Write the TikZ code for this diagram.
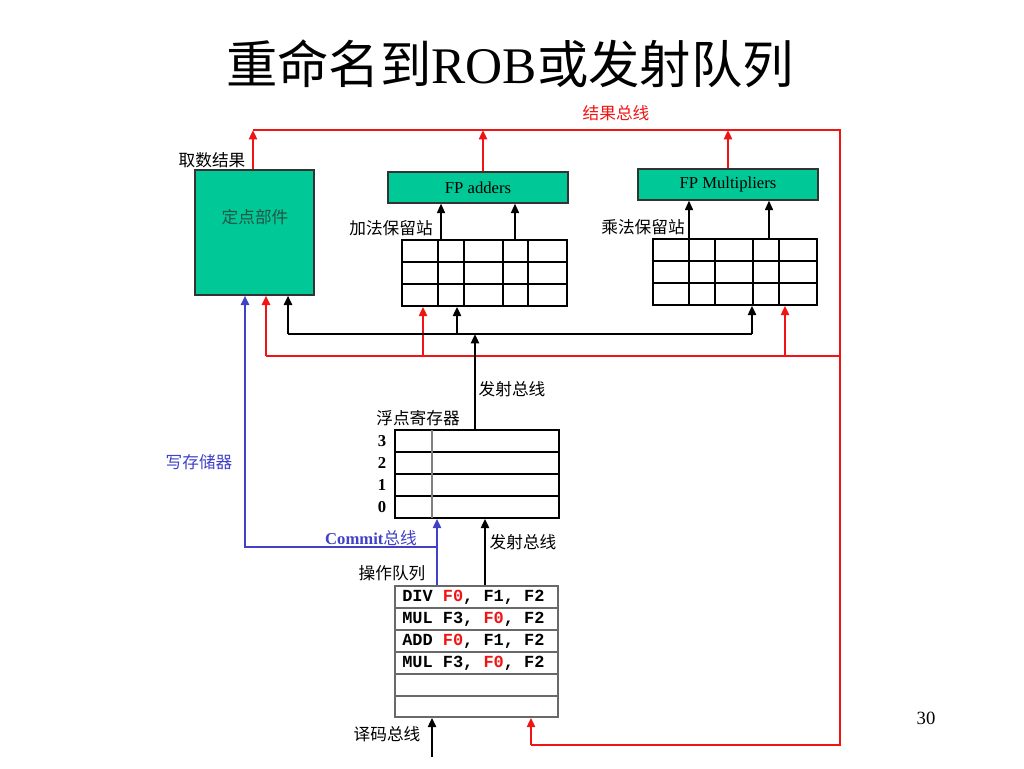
\documentclass[tikz,border=0pt]{standalone}
\usepackage{fontspec}
\setmainfont{Liberation Serif}
\newfontfamily\cjk{Noto Sans CJK SC}
\newfontfamily\qmono{Liberation Mono}
\usetikzlibrary{arrows.meta,fit}
\definecolor{unitgreen}{RGB}{0,200,150}
\definecolor{busred}{RGB}{240,20,20}
\definecolor{busblue}{RGB}{64,64,200}
\definecolor{unittext}{RGB}{35,85,72}
\definecolor{qgray}{RGB}{105,105,105}
\begin{document}
\begin{tikzpicture}[x=0.75pt,y=-0.75pt,
  unit/.style={draw=black!80, line width=1pt, fill=unitgreen, inner sep=0pt},
  tab/.style={draw=black, line width=1.1pt, inner sep=0pt},
  tabline/.style={draw=black, line width=1.1pt},
  qtab/.style={draw=qgray, line width=1.1pt, inner sep=0pt},
  qline/.style={draw=qgray, line width=1.1pt},
  lab/.style={font=\cjk\fontsize{12.5}{14}\selectfont, inner sep=0pt},
  tlab/.style={font=\rmfamily\fontsize{12.5}{14}\selectfont, inner sep=0pt},
  qtxt/.style={font=\qmono\bfseries\fontsize{12.7}{14}\selectfont, inner sep=0pt, anchor=west},
  arr/.style={-{Triangle[length=7pt,width=6pt]}},
  redbus/.style={draw=busred, line width=2pt},
  bluebus/.style={draw=busblue, line width=2pt},
  blkbus/.style={draw=black, line width=2pt}]
\useasboundingbox (0,0) rectangle (1024,768);

% title
\node[lab] (title) at (510,64) {\fontsize{38.5}{42}\selectfont 重命名到{\rmfamily ROB}或发射队列};

% functional units
\node[unit, fit={(195,170) (314,295)}] (fx) {};
\node[lab, text=unittext] (fxt) at (255,217) {定点部件};
\node[unit, fit={(388,172) (568,203)}] (fpa) {};
\node[tlab] (fpat) at (fpa.center) {FP adders};
\node[unit, fit={(638,169) (818,200)}] (fpm) {};
\node[tlab] (fpmt) at (fpm.center) {FP Multipliers};

% reservation stations
\node[tab, fit={(402,240) (567,306)}] (ars) {};
\foreach \x in {438,464,503,528} \draw[tabline] (\x,240) -- (\x,306);
\foreach \y in {262,284} \draw[tabline] (402,\y) -- (567,\y);
\node[tab, fit={(653,239) (817,305)}] (mrs) {};
\foreach \x in {689,715,753,779} \draw[tabline] (\x,239) -- (\x,305);
\foreach \y in {261,283} \draw[tabline] (653,\y) -- (817,\y);

% register file
\node[tab, fit={(395,430) (559,518)}] (rf) {};
\foreach \y in {452,474,496} \draw[tabline] (395,\y) -- (559,\y);
\draw[draw=gray, line width=1.1pt] (432,430) -- (432,518);
\foreach \n/\y in {3/441,2/463,1/485,0/507}
  \node[tlab, font=\rmfamily\bfseries\fontsize{12.5}{14}\selectfont] (r\n) at (382,\y) {\n};

% instruction queue
\node[qtab, fit={(395,586) (558,717)}] (q) {};
\foreach \y in {608,630,652,674,696} \draw[qline] (395,\y) -- (558,\y);
\node[qtxt] (q1) at (402,597) {DIV \textcolor{busred}{F0}, F1, F2};
\node[qtxt] (q2) at (402,619) {MUL F3, \textcolor{busred}{F0}, F2};
\node[qtxt] (q3) at (402,641) {ADD \textcolor{busred}{F0}, F1, F2};
\node[qtxt] (q4) at (402,663) {MUL F3, \textcolor{busred}{F0}, F2};

% labels
\node[lab, text=busred] (lres) at (616,113) {结果总线};
\node[lab] (lget) at (212,160) {取数结果};
\node[lab] (lars) at (391,228) {加法保留站};
\node[lab] (lmrs) at (643,227) {乘法保留站};
\node[lab] (liss1) at (512,389) {发射总线};
\node[lab] (lrf) at (418,418) {浮点寄存器};
\node[lab, text=busblue] (lmem) at (199,462) {写存储器};
\node[lab, text=busblue] (lcom) at (371,538) {{\rmfamily\bfseries Commit}总线};
\node[lab] (liss2) at (523,542) {发射总线};
\node[lab] (lq) at (392,573) {操作队列};
\node[lab] (ldec) at (387,734) {译码总线};
\node[tlab, font=\rmfamily\fontsize{14}{16}\selectfont] (pg) at (926,718) {30};

% coordinates of buses
\coordinate (tbL) at (253,130);
\coordinate (tbA) at (483,130);
\coordinate (tbM) at (728,130);
\coordinate (tbR) at (840,130);
\coordinate (brR) at (840,745);
\coordinate (brL) at (531,745);
\coordinate (rbL) at (266,356);
\coordinate (rbA) at (423,356);
\coordinate (rbM) at (785,356);
\coordinate (rbR) at (840,356);
\coordinate (kbL) at (288,334);
\coordinate (kbA) at (457,334);
\coordinate (kbR) at (752,334);
\coordinate (iss) at (475,334);
\coordinate (xa1) at (441,0);
\coordinate (xa2) at (515,0);
\coordinate (xm1) at (689,0);
\coordinate (xm2) at (769,0);
\coordinate (bl1) at (245,547);
\coordinate (bl2) at (437,547);
\coordinate (xi2) at (485,0);
\coordinate (dec) at (432,757);

% result bus (red)
\draw[redbus,arr] (tbL |- fx.north) -- (tbL);
\draw[redbus,arr] (tbA |- fpa.north) -- (tbA);
\draw[redbus,arr] (tbM |- fpm.north) -- (tbM);
\draw[redbus] (tbL) -- (tbR) -- (brR) -- (brL);
\draw[redbus,arr] (brL) -- (brL |- q.south);
\draw[redbus] (rbL) -- (rbR);
\draw[redbus,arr] (rbL) -- (rbL |- fx.south);
\draw[redbus,arr] (rbA) -- (rbA |- ars.south);
\draw[redbus,arr] (rbM) -- (rbM |- mrs.south);

% issue bus (black)
\draw[blkbus] (kbL) -- (kbR);
\draw[blkbus,arr] (kbL) -- (kbL |- fx.south);
\draw[blkbus,arr] (kbA) -- (kbA |- ars.south);
\draw[blkbus,arr] (kbR) -- (kbR |- mrs.south);
\draw[blkbus,arr] (iss |- rf.north) -- (iss);

% reservation stations to units
\draw[tabline,arr] (xa1 |- ars.north) -- (xa1 |- fpa.south);
\draw[tabline,arr] (xa2 |- ars.north) -- (xa2 |- fpa.south);
\draw[tabline,arr] (xm1 |- mrs.north) -- (xm1 |- fpm.south);
\draw[tabline,arr] (xm2 |- mrs.north) -- (xm2 |- fpm.south);

% commit bus (blue)
\draw[bluebus,arr] (bl2 |- q.north) -- (bl2 |- rf.south);
\draw[bluebus,arr] (bl2) -- (bl1) -- (bl1 |- fx.south);

% queue to register file, decode bus
\draw[blkbus,arr] (xi2 |- q.north) -- (xi2 |- rf.south);
\draw[blkbus,arr] (dec) -- (dec |- q.south);
\end{tikzpicture}
\end{document}
